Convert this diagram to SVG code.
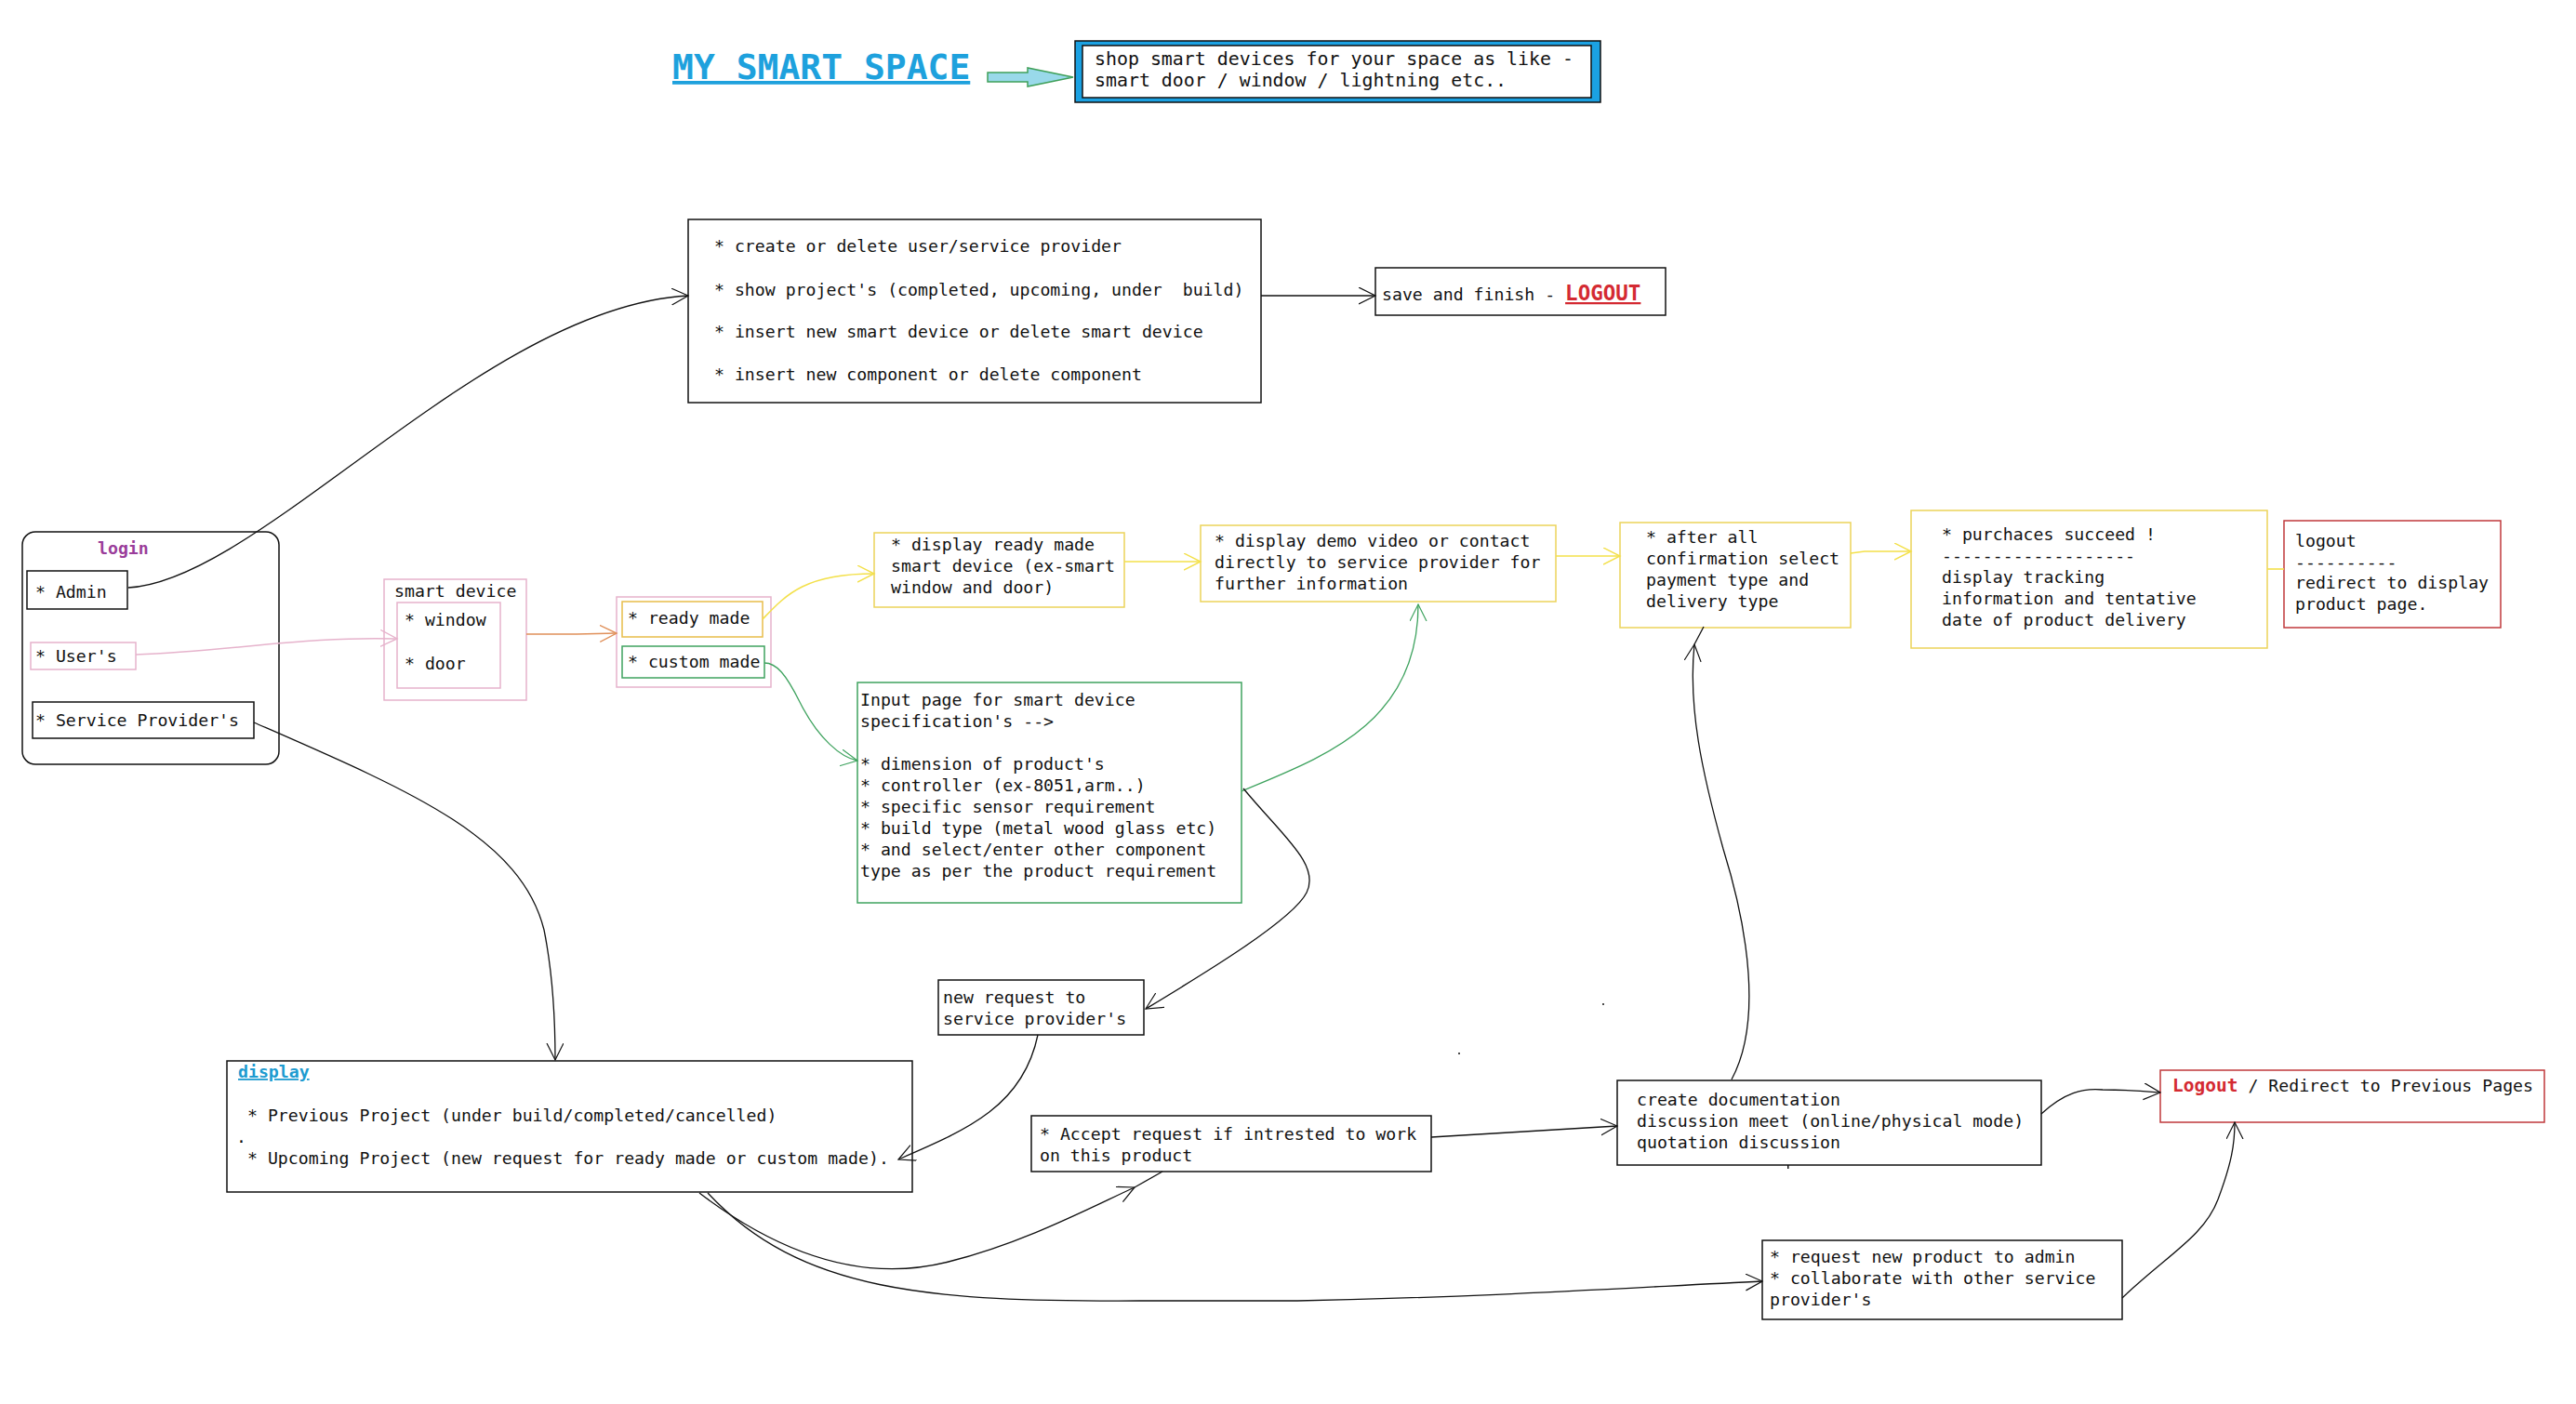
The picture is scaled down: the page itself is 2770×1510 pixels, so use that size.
<svg xmlns="http://www.w3.org/2000/svg" width="2770" height="1510" viewBox="0 0 2770 1510">
<style>
  .t { font-family: "DejaVu Sans Mono", "Liberation Mono", monospace; font-size: 18.2px; fill: #111; }
  .big { font-size: 19.9px; }
  .b { font-weight: bold; }
  .box { fill: #fff; stroke: #111; stroke-width: 1.5; }
  .ybox { fill: #fff; stroke: #ecd35a; stroke-width: 1.5; }
  .gbox { fill: #fff; stroke: #3fa35f; stroke-width: 1.5; }
  .pbox { fill: #fff; stroke: #e6b3cc; stroke-width: 1.5; }
  .rbox { fill: #fff; stroke: #c0393b; stroke-width: 1.5; }
  .c { fill: none; stroke: #111; stroke-width: 1.3; }
  .cy { fill: none; stroke: #f3e04a; stroke-width: 1.6; }
  .cg { fill: none; stroke: #3fa35f; stroke-width: 1.3; }
  .cp { fill: none; stroke: #e6b3cc; stroke-width: 1.5; }
  .co { fill: none; stroke: #e0905a; stroke-width: 1.5; }
</style>
<defs>
  <marker id="ak" markerUnits="userSpaceOnUse" markerWidth="22" markerHeight="22" refX="18" refY="9" orient="auto"><path d="M0,0 L18,9 L0,18" fill="none" stroke="#111" stroke-width="1.2"/></marker>
  <marker id="ay" markerUnits="userSpaceOnUse" markerWidth="22" markerHeight="22" refX="18" refY="9" orient="auto"><path d="M0,0 L18,9 L0,18" fill="none" stroke="#f3e04a" stroke-width="1.4"/></marker>
  <marker id="ag" markerUnits="userSpaceOnUse" markerWidth="22" markerHeight="22" refX="18" refY="9" orient="auto"><path d="M0,0 L18,9 L0,18" fill="none" stroke="#3fa35f" stroke-width="1.2"/></marker>
  <marker id="ap" markerUnits="userSpaceOnUse" markerWidth="22" markerHeight="22" refX="18" refY="9" orient="auto"><path d="M0,0 L18,9 L0,18" fill="none" stroke="#e6b3cc" stroke-width="1.4"/></marker>
  <marker id="ao" markerUnits="userSpaceOnUse" markerWidth="22" markerHeight="22" refX="18" refY="9" orient="auto"><path d="M0,0 L18,9 L0,18" fill="none" stroke="#e0905a" stroke-width="1.4"/></marker>
</defs>
<rect width="2770" height="1510" fill="#fff"/>

<g id="title">
  <text x="723" y="85" class="t b" style="font-size:38px; fill:#1ea1dd; text-decoration:underline">MY SMART SPACE</text>
  <polygon points="1062,78 1105,78 1105,73 1154,83 1105,93 1105,88 1062,88" fill="#99d9ea" stroke="#3fa05a" stroke-width="1.5"/>
</g>

<g id="tagline">
  <rect x="1156" y="44" width="565" height="66" fill="#1ba1e2" stroke="#111" stroke-width="1.5"/>
  <rect x="1164" y="49" width="547" height="56" fill="#fff" stroke="#111" stroke-width="1.5"/>
  <text class="t big" x="1177" y="70">shop smart devices for your space as like -</text>
  <text class="t big" x="1177" y="93">smart door / window / lightning etc..</text>
</g>

<g id="admin-panel">
  <rect class="box" x="740" y="236" width="616" height="197"/>
  <text class="t" x="768" y="271">* create or delete user/service provider</text>
  <text class="t" x="768" y="318" xml:space="preserve">* show project's (completed, upcoming, under  build)</text>
  <text class="t" x="768" y="363">* insert new smart device or delete smart device</text>
  <text class="t" x="768" y="409">* insert new component or delete component</text>
</g>

<g id="save-finish">
  <rect class="box" x="1479" y="288" width="312" height="51"/>
  <text class="t" x="1486" y="323" xml:space="preserve">save and finish - <tspan class="b" style="font-size:22.5px; fill:#d42a32; text-decoration:underline">LOGOUT</tspan></text>
</g>

<g id="login">
  <rect x="24" y="572" width="276" height="250" rx="14" fill="#fff" stroke="#111" stroke-width="1.5"/>
  <text class="t b" x="105" y="596" style="fill:#9a3d9a">login</text>
</g>
<g id="admin">
  <rect class="box" x="29" y="614" width="108" height="41"/>
  <text class="t" x="38" y="643">* Admin</text>
</g>
<g id="users">
  <rect class="pbox" x="33" y="691" width="113" height="29"/>
  <text class="t" x="38" y="712">* User's</text>
</g>
<g id="service-provider">
  <rect class="box" x="35" y="755" width="238" height="39"/>
  <text class="t" x="38" y="781">* Service Provider's</text>
</g>

<g id="smart-device">
  <rect class="pbox" x="413" y="623" width="153" height="130"/>
  <text class="t" x="424" y="642">smart device</text>
  <rect class="pbox" x="427" y="648" width="111" height="92"/>
  <text class="t" x="435" y="673">* window</text>
  <text class="t" x="435" y="720">* door</text>
</g>

<g id="made-type">
  <rect class="pbox" x="663" y="642" width="166" height="97"/>
  <rect x="669" y="647" width="151" height="38" fill="#fff" stroke="#e8bd4a" stroke-width="1.5"/>
  <text class="t" x="675" y="671">* ready made</text>
  <rect class="gbox" x="669" y="695" width="153" height="34"/>
  <text class="t" x="675" y="718">* custom made</text>
</g>

<g id="display-ready">
  <rect class="ybox" x="940" y="573" width="269" height="80"/>
  <text class="t" x="958" y="592">* display ready made</text>
  <text class="t" x="958" y="615">smart device (ex-smart</text>
  <text class="t" x="958" y="638">window and door)</text>
</g>

<g id="demo">
  <rect class="ybox" x="1291" y="565" width="382" height="82"/>
  <text class="t" x="1306" y="588">* display demo video or contact</text>
  <text class="t" x="1306" y="611">directly to service provider for</text>
  <text class="t" x="1306" y="634">further information</text>
</g>

<g id="confirm">
  <rect class="ybox" x="1742" y="562" width="248" height="113"/>
  <text class="t" x="1770" y="584">* after all</text>
  <text class="t" x="1770" y="607">confirmation select</text>
  <text class="t" x="1770" y="630">payment type and</text>
  <text class="t" x="1770" y="653">delivery type</text>
</g>

<g id="purchase">
  <rect class="ybox" x="2055" y="549" width="383" height="148"/>
  <text class="t" x="2088" y="581">* purchaces succeed !</text>
  <text class="t" x="2088" y="604">-------------------</text>
  <text class="t" x="2088" y="627">display tracking</text>
  <text class="t" x="2088" y="650">information and tentative</text>
  <text class="t" x="2088" y="673">date of product delivery</text>
</g>

<g id="logout-display">
  <rect class="rbox" x="2456" y="560" width="233" height="115"/>
  <text class="t" x="2468" y="588">logout</text>
  <text class="t" x="2468" y="611">----------</text>
  <text class="t" x="2468" y="633">redirect to display</text>
  <text class="t" x="2468" y="656">product page.</text>
</g>

<g id="input-page">
  <rect class="gbox" x="922" y="734" width="413" height="237"/>
  <text class="t" x="925" y="759">Input page for smart device</text>
  <text class="t" x="925" y="782">specification's --&gt;</text>
  <text class="t" x="925" y="828">* dimension of product's</text>
  <text class="t" x="925" y="851">* controller (ex-8051,arm..)</text>
  <text class="t" x="925" y="874">* specific sensor requirement</text>
  <text class="t" x="925" y="897">* build type (metal wood glass etc)</text>
  <text class="t" x="925" y="920">* and select/enter other component</text>
  <text class="t" x="925" y="943">type as per the product requirement</text>
</g>

<g id="new-request">
  <rect class="box" x="1009" y="1054" width="221" height="59"/>
  <text class="t" x="1014" y="1079">new request to</text>
  <text class="t" x="1014" y="1102">service provider's</text>
</g>

<g id="display">
  <rect class="box" x="244" y="1141" width="737" height="141"/>
  <text class="t b" x="256" y="1159" style="fill:#1e9bd0; text-decoration:underline">display</text>
  <text class="t" x="266" y="1206">* Previous Project (under build/completed/cancelled)</text>
  <text class="t" x="254" y="1229">.</text>
  <text class="t" x="266" y="1252">* Upcoming Project (new request for ready made or custom made).</text>
</g>

<g id="accept">
  <rect class="box" x="1109" y="1200" width="430" height="60"/>
  <text class="t" x="1118" y="1226">* Accept request if intrested to work</text>
  <text class="t" x="1118" y="1249">on this product</text>
</g>

<g id="documentation">
  <rect class="box" x="1739" y="1162" width="456" height="91"/>
  <text class="t" x="1760" y="1189">create documentation</text>
  <text class="t" x="1760" y="1212">discussion meet (online/physical mode)</text>
  <text class="t" x="1760" y="1235">quotation discussion</text>
</g>

<g id="logout-previous">
  <rect class="rbox" x="2323" y="1151" width="413" height="56"/>
  <text class="t" x="2336" y="1174"><tspan class="b" style="font-size:19.5px; fill:#d42a32">Logout</tspan> / Redirect to Previous Pages</text>
</g>

<g id="request-admin">
  <rect class="box" x="1895" y="1334" width="387" height="85"/>
  <text class="t" x="1903" y="1358">* request new product to admin</text>
  <text class="t" x="1903" y="1381">* collaborate with other service</text>
  <text class="t" x="1903" y="1404">provider's</text>
</g>

<g id="connectors">
  <path class="c" d="M138,632 C280,625 520,330 740,318" marker-end="url(#ak)"/>
  <path class="c" d="M1356,318 L1479,318" marker-end="url(#ak)"/>
  <path class="cp" d="M146,704 C250,700 330,684 427,687" marker-end="url(#ap)"/>
  <path class="co" d="M566,682 L620,682 L663,681" marker-end="url(#ao)"/>
  <path class="cy" d="M820,666 C845,640 865,617 940,617" marker-end="url(#ay)"/>
  <path class="cy" d="M1209,604 L1291,604" marker-end="url(#ay)"/>
  <path class="cy" d="M1673,598 L1742,598" marker-end="url(#ay)"/>
  <path class="cy" d="M1990,595 L2005,593 L2055,593" marker-end="url(#ay)"/>
  <path class="cy" d="M2438,612 L2456,612"/>
  <path class="cg" d="M822,713 C835,713 845,725 860,755 C880,795 905,815 922,818" marker-end="url(#ag)"/>
  <path class="cg" d="M1335,851 C1420,815 1525,780 1525,650" marker-end="url(#ag)"/>
  <path class="c" d="M1337,848 C1380,900 1420,930 1405,960 C1390,990 1290,1050 1232,1085" marker-end="url(#ak)"/>
  <path class="c" d="M1116,1113 C1100,1190 1040,1215 966,1247" marker-end="url(#ak)"/>
  <path class="c" d="M273,777 C440,850 560,900 585,1000 C595,1050 597,1100 597,1140" marker-end="url(#ak)"/>
  <path class="c" d="M752,1283 C840,1350 930,1380 1020,1357 C1100,1337 1170,1300 1220,1277" marker-end="url(#ak)"/>
  <path class="c" d="M1220,1277 L1250,1260"/>
  <path class="c" d="M761,1283 C860,1390 1000,1400 1225,1399 L1395,1399 C1600,1395 1750,1385 1895,1378" marker-end="url(#ak)"/>
  <path class="c" d="M1539,1223 L1739,1211" marker-end="url(#ak)"/>
  <path class="c" d="M2195,1198 C2220,1175 2240,1170 2261,1172 C2290,1172 2310,1174 2323,1175" marker-end="url(#ak)"/>
  <path class="c" d="M1862,1161 C1895,1100 1880,1000 1853,913 C1830,830 1815,760 1822,693" marker-end="url(#ak)"/>
  <path class="c" d="M1822,693 L1832,674"/>
  <path class="c" d="M2282,1396 C2330,1350 2370,1330 2385,1290 C2400,1250 2403,1230 2403,1207" marker-end="url(#ak)"/>
</g>

<g id="specks" fill="#111">
  <circle cx="1724" cy="1080" r="1"/>
  <circle cx="1569" cy="1133" r="1"/>
  <rect x="1922" y="1253" width="1.5" height="4"/>
</g>
</svg>
